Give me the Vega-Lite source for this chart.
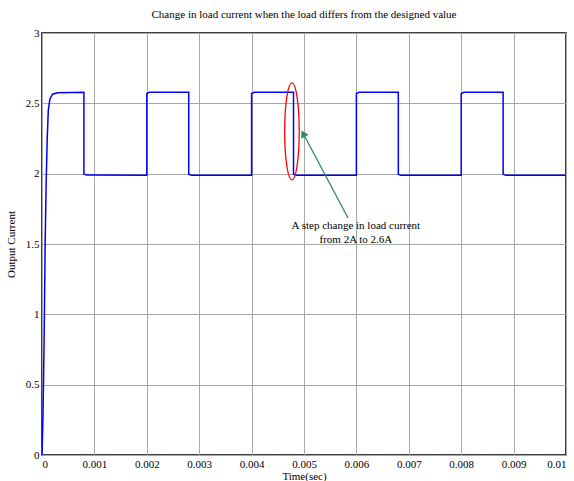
{
  "$schema": "https://vega.github.io/schema/vega-lite/v6.json",
  "autosize": "none",
  "width": 524,
  "height": 422,
  "padding": {"left": 42, "top": 33, "right": 8, "bottom": 26},
  "background": "white",
  "config": {
    "font": "Liberation Serif",
    "view": {"stroke": "black", "strokeWidth": 1.5},
    "axis": {
      "grid": true, "gridColor": "#a8a8a8", "gridWidth": 1, "gridOpacity": 1,
      "domain": false, "ticks": false,
      "labelFont": "Liberation Serif", "labelFontSize": 11, "labelColor": "black",
      "titleFont": "Liberation Serif", "titleFontSize": 11, "titleFontWeight": "normal", "titleColor": "black"
    }
  },
  "title": {"text": "Change in load current when the load differs from the designed value", "font": "Liberation Serif", "fontSize": 11, "fontWeight": "normal", "color": "black", "offset": 7},
  "datasets": {
    "wave": [
      {"i": 0, "t": 0, "v": 0},
      {"i": 1, "t": 0.00002, "v": 0.3},
      {"i": 2, "t": 0.00004, "v": 0.8},
      {"i": 3, "t": 0.00006, "v": 1.5},
      {"i": 4, "t": 0.00008, "v": 1.95},
      {"i": 5, "t": 0.0001, "v": 2.25},
      {"i": 6, "t": 0.00012, "v": 2.45},
      {"i": 7, "t": 0.00015, "v": 2.53},
      {"i": 8, "t": 0.0002, "v": 2.565},
      {"i": 9, "t": 0.0003, "v": 2.575},
      {"i": 10, "t": 0.0008, "v": 2.578},
      {"i": 11, "t": 0.0008, "v": 1.998},
      {"i": 12, "t": 0.00085, "v": 1.99},
      {"i": 13, "t": 0.002, "v": 1.988},
      {"i": 14, "t": 0.002, "v": 2.57},
      {"i": 15, "t": 0.00205, "v": 2.578},
      {"i": 16, "t": 0.0028, "v": 2.578},
      {"i": 17, "t": 0.0028, "v": 1.996},
      {"i": 18, "t": 0.00285, "v": 1.988},
      {"i": 19, "t": 0.004, "v": 1.988},
      {"i": 20, "t": 0.004, "v": 2.57},
      {"i": 21, "t": 0.00405, "v": 2.578},
      {"i": 22, "t": 0.0048, "v": 2.578},
      {"i": 23, "t": 0.0048, "v": 1.996},
      {"i": 24, "t": 0.00485, "v": 1.988},
      {"i": 25, "t": 0.006, "v": 1.988},
      {"i": 26, "t": 0.006, "v": 2.57},
      {"i": 27, "t": 0.00605, "v": 2.578},
      {"i": 28, "t": 0.0068, "v": 2.578},
      {"i": 29, "t": 0.0068, "v": 1.996},
      {"i": 30, "t": 0.00685, "v": 1.988},
      {"i": 31, "t": 0.008, "v": 1.988},
      {"i": 32, "t": 0.008, "v": 2.57},
      {"i": 33, "t": 0.00805, "v": 2.578},
      {"i": 34, "t": 0.0088, "v": 2.578},
      {"i": 35, "t": 0.0088, "v": 1.996},
      {"i": 36, "t": 0.00885, "v": 1.988},
      {"i": 37, "t": 0.01, "v": 1.988}
    ],
    "arrow": [{"t1": 0.00584, "v1": 1.685, "t2": 0.005, "v2": 2.275}],
    "head": [{"t": 0.004985, "v": 2.285}],
    "ellipse": [{"t": 0.00477, "v": 2.3}],
    "notes": [
      {"t": 0.00599, "v": 1.63, "label": "A step change in load current"},
      {"t": 0.00599, "v": 1.525, "label": "from 2A to 2.6A"}
    ]
  },
  "layer": [
    {
      "data": {"name": "wave"},
      "mark": {"type": "line", "color": "#0000ff", "strokeWidth": 1.5, "clip": true},
      "encoding": {
        "x": {"field": "t", "type": "quantitative", "scale": {"domain": [0, 0.01], "nice": false},
          "axis": {"values": [0, 0.001, 0.002, 0.003, 0.004, 0.005, 0.006, 0.007, 0.008, 0.009, 0.01], "labelExpr": "datum.value + ''", "labelPadding": 3, "title": "Time(sec)", "titlePadding": 1}},
        "y": {"field": "v", "type": "quantitative", "scale": {"domain": [0, 3], "nice": false},
          "axis": {"values": [0, 0.5, 1, 1.5, 2, 2.5, 3], "format": "~g", "labelPadding": 3, "title": "Output Current", "titlePadding": 9}},
        "order": {"field": "i", "type": "quantitative"}
      }
    },
    {
      "data": {"name": "arrow"},
      "mark": {"type": "rule", "color": "#2e8b57", "strokeWidth": 1.3},
      "encoding": {
        "x": {"field": "t1", "type": "quantitative"},
        "y": {"field": "v1", "type": "quantitative"},
        "x2": {"field": "t2"},
        "y2": {"field": "v2"}
      }
    },
    {
      "data": {"name": "head"},
      "mark": {"type": "point", "shape": "triangle-up", "filled": true, "color": "#2e8b57", "opacity": 1, "size": 70, "angle": 332},
      "encoding": {
        "x": {"field": "t", "type": "quantitative"},
        "y": {"field": "v", "type": "quantitative"}
      }
    },
    {
      "data": {"name": "ellipse"},
      "mark": {"type": "point", "shape": "M0,-1A0.15,1,0,1,1,0,1A0.15,1,0,1,1,0,-1Z", "filled": false, "stroke": "#ff0000", "strokeWidth": 1.3, "opacity": 1, "size": 9409},
      "encoding": {
        "x": {"field": "t", "type": "quantitative"},
        "y": {"field": "v", "type": "quantitative"}
      }
    },
    {
      "data": {"name": "notes"},
      "mark": {"type": "text", "font": "Liberation Serif", "fontSize": 11, "color": "black", "align": "center", "baseline": "middle"},
      "encoding": {
        "x": {"field": "t", "type": "quantitative"},
        "y": {"field": "v", "type": "quantitative"},
        "text": {"field": "label"}
      }
    }
  ]
}
